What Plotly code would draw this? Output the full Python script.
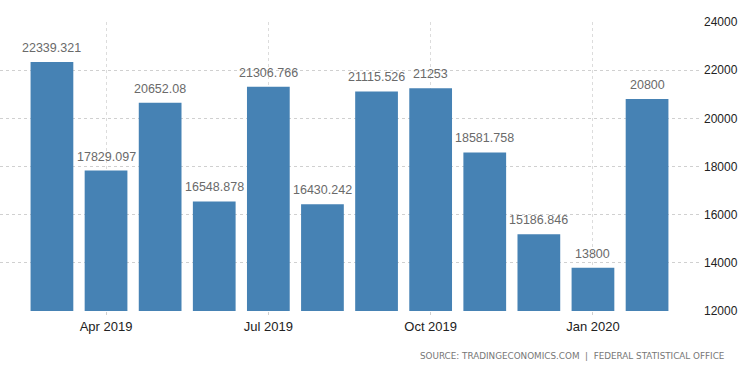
import plotly.graph_objects as go

months = ["Mar 2019", "Apr 2019", "May 2019", "Jun 2019", "Jul 2019", "Aug 2019",
          "Sep 2019", "Oct 2019", "Nov 2019", "Dec 2019", "Jan 2020", "Feb 2020"]
values = [22339.321, 17829.097, 20652.08, 16548.878, 21306.766, 16430.242,
          21115.526, 21253, 18581.758, 15186.846, 13800, 20800]
value_labels = ["22339.321", "17829.097", "20652.08", "16548.878", "21306.766", "16430.242",
                "21115.526", "21253", "18581.758", "15186.846", "13800", "20800"]
tick_labels = ["Apr 2019", "Jul 2019", "Oct 2019", "Jan 2020"]
y_ticks = [12000, 14000, 16000, 18000, 20000, 22000, 24000]

idx = list(range(len(months)))
tick_idx = [months.index(t) for t in tick_labels]

fig = go.Figure(go.Bar(
    x=idx, y=values, base=0,
    marker=dict(color="#4682B4", line=dict(width=0)),
    width=0.79, hoverinfo="skip",
))

annotations = [dict(
    x=i, y=v, xref="x", yref="y", text=t, showarrow=False,
    yanchor="bottom", yshift=5,
    font=dict(family="Liberation Sans", size=12.5, color="#6a6a6a"),
) for i, v, t in zip(idx, values, value_labels)]

annotations.append(dict(
    text="SOURCE: TRADINGECONOMICS.COM  |  FEDERAL STATISTICAL OFFICE",
    xref="paper", yref="paper", x=726 / 699, y=-0.155,
    xanchor="right", yanchor="middle", showarrow=False,
    font=dict(family="DejaVu Sans", size=8.8, color="#777777"),
))

fig.update_layout(
    width=750, height=373,
    margin=dict(l=0, r=51, t=22, b=62, pad=0),
    paper_bgcolor="white", plot_bgcolor="white",
    showlegend=False,
    font=dict(family="Liberation Sans", size=12, color="#333333"),
    xaxis=dict(
        range=[-0.96, 11.96], automargin=False,
        tickvals=tick_idx, ticktext=tick_labels,
        showgrid=True, gridcolor="#dcdcdc", griddash="dot", gridwidth=1,
        zeroline=False, showline=False,
        ticks="outside", ticklen=3, tickcolor="#d0d0d0",
        tickfont=dict(family="Liberation Sans", size=13, color="#222222"),
    ),
    yaxis=dict(
        range=[12000, 24000], side="right", automargin=False,
        tickvals=y_ticks, ticktext=[str(v) for v in y_ticks],
        showgrid=True, gridcolor="#d0d0d0", griddash="dot", gridwidth=1,
        zeroline=False, showline=False, ticks="",
        ticklabelstandoff=4,
        tickfont=dict(family="Liberation Sans", size=12, color="#222222"),
    ),
    annotations=annotations,
)

fig.write_html("out.html", config={"displayModeBar": False},
               post_script="document.body.style.margin='0';document.body.style.padding='0';")
